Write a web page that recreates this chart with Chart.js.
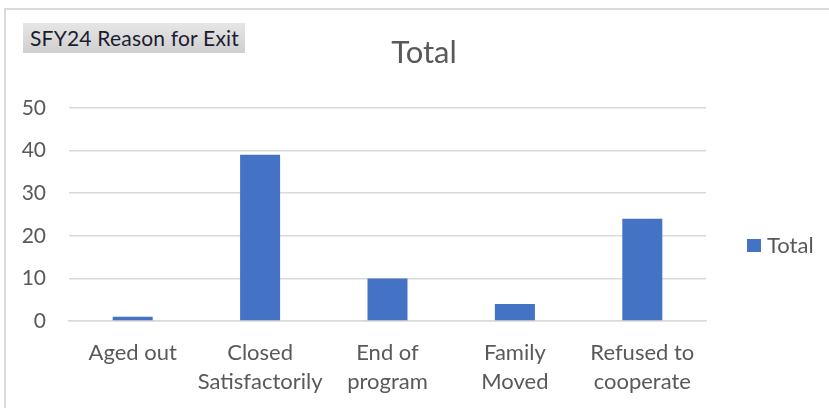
<!DOCTYPE html>
<html>
<head>
<meta charset="utf-8">
<script src="https://cdn.jsdelivr.net/npm/chart.js"></script>
<style>
  html, body { margin: 0; padding: 0; background: #fff; overflow: hidden; }
  #frame { position: absolute; left: 4px; top: 8px; width: 900px; height: 500px; border: 2px solid #dadada; box-sizing: border-box; }
  #wrap { position: absolute; left: 0; top: 0; width: 829px; height: 408px; }
  #tag { position: absolute; left: 23px; top: 23px; width: 222px; height: 30px; background: linear-gradient(#e6e6e6, #cfcfcf);
         font-family: Lato, sans-serif; font-size: 21px; color: #1c1c30; line-height: 30px; box-sizing: border-box; padding-left: 7px; white-space: nowrap; letter-spacing: 0.2px; }
</style>
</head>
<body>
<div id="frame"></div>
<div id="wrap"><canvas id="c" width="829" height="408"></canvas></div>
<div id="tag">SFY24 Reason for Exit</div>
<script>
const categories = [["Aged out"], ["Closed", "Satisfactorily"], ["End of", "program"], ["Family", "Moved"], ["Refused to", "cooperate"]];
const seriesName = "Total";
const totals = [1, 39, 10, 4, 24];
const yTicks = [0, 10, 20, 30, 40, 50];

const FONT = "Lato, 'Open Sans', sans-serif";
const TEXT = "#595959";

const overlay = {
  id: 'overlay',
  afterDraw(chart) {
    const ctx = chart.ctx;
    ctx.save();
    ctx.fillStyle = TEXT;
    ctx.font = "31px " + FONT;
    ctx.textAlign = "center";
    ctx.textBaseline = "middle";
    ctx.fillText(chart.options.plugins.title.text, 424, 53);
    const ds = chart.data.datasets[0];
    ctx.fillStyle = ds.backgroundColor;
    ctx.fillRect(747, 239, 14, 13);
    ctx.fillStyle = TEXT;
    ctx.font = "22px " + FONT;
    ctx.textAlign = "left";
    ctx.fillText(ds.label, 767, 246);
    ctx.restore();
  }
};

new Chart(document.getElementById('c'), {
  type: 'bar',
  data: {
    labels: categories,
    datasets: [{
      label: seriesName,
      data: totals,
      backgroundColor: '#4472C4',
      categoryPercentage: 1,
      barPercentage: 0.314
    }]
  },
  options: {
    responsive: false,
    animation: false,
    layout: { padding: { top: 108, right: 123, left: 0, bottom: 0 } },
    plugins: {
      legend: { display: false },
      title: { display: false, text: 'Total' },
      tooltip: { enabled: false }
    },
    scales: {
      x: {
        grid: { display: false, drawTicks: false },
        border: { display: true, color: '#d9d9d9', width: 1.5 },
        ticks: { color: TEXT, font: { family: FONT, size: 22, lineHeight: 1.32 }, padding: 17.5, maxRotation: 0, autoSkip: false },
        afterFit(s) { s.height = 87; }
      },
      y: {
        min: 0, max: 50,
        afterBuildTicks(s) { s.ticks = yTicks.map(v => ({ value: v })); },
        grid: { color: '#d9d9d9', lineWidth: 1.5, drawTicks: false },
        border: { display: false },
        ticks: { color: TEXT, font: { family: FONT, size: 21 }, padding: 23 },
        afterFit(s) { s.width = 69; }
      }
    }
  },
  plugins: [overlay]
});
</script>
</body>
</html>
